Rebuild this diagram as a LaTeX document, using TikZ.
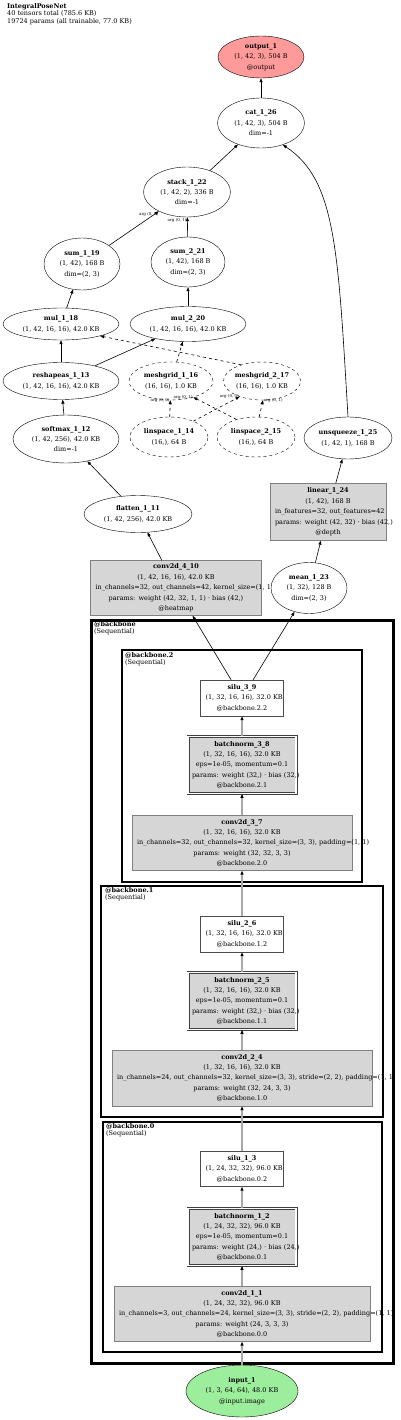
\documentclass[tikz,border=0pt]{standalone}
\usepackage{fontspec}
\setmainfont{DejaVu Serif}
\usetikzlibrary{arrows.meta, shapes.geometric}
\definecolor{opgray}{HTML}{D6D6D6}
\definecolor{outred}{HTML}{FF9A9A}
\definecolor{ingreen}{HTML}{9CEE9C}
\definecolor{flowgray}{HTML}{A8A8A8}
\newcommand{\nodefont}{\fontsize{6.5}{10.4}\selectfont}
\newcommand{\argfont}{\fontsize{4}{4.5}\selectfont}
\newcommand{\headfont}{\fontsize{6.5}{7.7}\selectfont}

\begin{document}
\begin{tikzpicture}[x=1pt, y=-1pt]
        \tikzset{
            op/.style={ellipse, draw, fill=white, align=center, inner sep=0pt, font=\nodefont},
            aux/.style={op, dashed},
            layer/.style={rectangle, draw=gray, fill=opgray, align=center, inner xsep=5pt, inner ysep=0pt, font=\nodefont},
            act/.style={layer, fill=white, draw=gray!60!black},
            norm/.style={layer, inner xsep=4pt, draw=gray!50!black, line width=0.7pt, double, double distance=1.6pt},
            frame/.style={draw, line width=2pt},
            framelabel/.style={anchor=north west, align=left, inner sep=0pt, font=\headfont},
            edge/.style={-{Triangle[length=4pt, width=3pt]}, line width=0.6pt},
            argedge/.style={edge, dashed},
            flow/.style={-{Triangle[black, length=4pt, width=3pt]}, draw=flowgray, line width=1.6pt},
            arglabel/.style={font=\argfont, inner sep=0.5pt}
        }
        \useasboundingbox (0,0) rectangle (400,1420);

        % Frames
        \draw[frame, line width=3pt] (91,620) rectangle (393,1363);
        \draw[frame] (122,650) rectangle (362,882);
        \draw[frame] (101,886) rectangle (383,1117);
        \draw[frame] (103,1122) rectangle (382,1352);
        \node[framelabel] (backbone) at (94,621) {\textbf{@backbone}\\(Sequential)};
        \node[framelabel] (backbone2) at (125,652) {\textbf{@backbone.2}\\(Sequential)};
        \node[framelabel] (backbone1) at (105,887) {\textbf{@backbone.1}\\(Sequential)};
        \node[framelabel] (backbone0) at (106,1123) {\textbf{@backbone.0}\\(Sequential)};

        % Nodes
        \node[anchor=north west, align=left, inner sep=0pt, font=\headfont] (header) at (7,3) {\textbf{IntegralPoseNet}\\40 tensors total (785.6 KB)\\19724 params (all trainable, 77.0 KB)};
        \node[op, fill=outred, minimum width=86, minimum height=42] (output_1) at (261,57) {\textbf{output\_1}\\(1, 42, 3), 504 B\\@output};
        \node[op, minimum width=87, minimum height=50] (cat_1_26) at (261,123) {\textbf{cat\_1\_26}\\(1, 42, 3), 504 B\\dim=-1};
        \node[op, minimum width=87, minimum height=50] (stack_1_22) at (187,192) {\textbf{stack\_1\_22}\\(1, 42, 2), 336 B\\dim=-1};
        \node[op, minimum width=76, minimum height=52] (sum_1_19) at (82,264) {\textbf{sum\_1\_19}\\(1, 42), 168 B\\dim=(2, 3)};
        \node[op, minimum width=74, minimum height=50] (sum_2_21) at (188,262) {\textbf{sum\_2\_21}\\(1, 42), 168 B\\dim=(2, 3)};
        \node[op, minimum width=116, minimum height=32] (mul_1_18) at (61,324) {\textbf{mul\_1\_18}\\(1, 42, 16, 16), 42.0 KB};
        \node[op, minimum width=116, minimum height=35] (mul_2_20) at (188,324) {\textbf{mul\_2\_20}\\(1, 42, 16, 16), 42.0 KB};
        \node[op, minimum width=116, minimum height=37] (reshapeas_1_13) at (61,381) {\textbf{reshapeas\_1\_13}\\(1, 42, 16, 16), 42.0 KB};
        \node[aux, minimum width=84, minimum height=38] (meshgrid_1_16) at (171,381) {\textbf{meshgrid\_1\_16}\\(16, 16), 1.0 KB};
        \node[aux, minimum width=77, minimum height=38] (meshgrid_2_17) at (262,381) {\textbf{meshgrid\_2\_17}\\(16, 16), 1.0 KB};
        \node[op, minimum width=106, minimum height=48] (softmax_1_12) at (66,439) {\textbf{softmax\_1\_12}\\(1, 42, 256), 42.0 KB\\dim=-1};
        \node[aux, minimum width=78, minimum height=40] (linspace_1_14) at (169,437) {\textbf{linspace\_1\_14}\\(16,), 64 B};
        \node[aux, minimum width=78, minimum height=40] (linspace_2_15) at (256,437) {\textbf{linspace\_2\_15}\\(16,), 64 B};
        \node[op, minimum width=88, minimum height=42] (unsqueeze_1_25) at (348,438) {\textbf{unsqueeze\_1\_25}\\(1, 42, 1), 168 B};
        \node[op, minimum width=108, minimum height=37] (flatten_1_11) at (138,514) {\textbf{flatten\_1\_11}\\(1, 42, 256), 42.0 KB};
        \node[layer, text width=106, minimum height=57] (linear_1_24) at (328,512) {\textbf{linear\_1\_24}\\(1, 42), 168 B\\\mbox{in\_features=32, out\_features=42}\\\mbox{params: weight (42, 32) · bias (42,)}\\@depth};
        \node[layer, text width=161, minimum height=55] (conv2d_4_10) at (176,588) {\textbf{conv2d\_4\_10}\\(1, 42, 16, 16), 42.0 KB\\\mbox{in\_channels=32, out\_channels=42, kernel\_size=(1, 1)}\\\mbox{params: weight (42, 32, 1, 1) · bias (42,)}\\@heatmap};
        \node[op, minimum width=76, minimum height=51] (mean_1_23) at (309,588) {\textbf{mean\_1\_23}\\(1, 32), 128 B\\dim=(2, 3)};

        \node[act, text width=73, minimum height=36] (silu_3_9) at (242,698) {\textbf{silu\_3\_9}\\\mbox{(1, 32, 16, 16), 32.0 KB}\\@backbone.2.2};
        \node[norm, text width=100, minimum height=57] (batchnorm_3_8) at (242,765) {\textbf{batchnorm\_3\_8}\\\mbox{(1, 32, 16, 16), 32.0 KB}\\\mbox{eps=1e-05, momentum=0.1}\\\mbox{params: weight (32,) · bias (32,)}\\@backbone.2.1};
        \node[layer, text width=210, minimum height=55] (conv2d_3_7) at (242,843) {\textbf{conv2d\_3\_7}\\(1, 32, 16, 16), 32.0 KB\\\mbox{in\_channels=32, out\_channels=32, kernel\_size=(3, 3), padding=(1, 1)}\\params: weight (32, 32, 3, 3)\\@backbone.2.0};
        \node[act, text width=73, minimum height=36] (silu_2_6) at (242,934) {\textbf{silu\_2\_6}\\\mbox{(1, 32, 16, 16), 32.0 KB}\\@backbone.1.2};
        \node[norm, text width=100, minimum height=57] (batchnorm_2_5) at (242,1001) {\textbf{batchnorm\_2\_5}\\\mbox{(1, 32, 16, 16), 32.0 KB}\\\mbox{eps=1e-05, momentum=0.1}\\\mbox{params: weight (32,) · bias (32,)}\\@backbone.1.1};
        \node[layer, text width=250, minimum height=56] (conv2d_2_4) at (242,1078) {\textbf{conv2d\_2\_4}\\(1, 32, 16, 16), 32.0 KB\\\mbox{in\_channels=24, out\_channels=32, kernel\_size=(3, 3), stride=(2, 2), padding=(1, 1)}\\params: weight (32, 24, 3, 3)\\@backbone.1.0};
        \node[act, text width=73, minimum height=35] (silu_1_3) at (242,1169) {\textbf{silu\_1\_3}\\\mbox{(1, 24, 32, 32), 96.0 KB}\\@backbone.0.2};
        \node[norm, text width=100, minimum height=57] (batchnorm_1_2) at (242,1237) {\textbf{batchnorm\_1\_2}\\\mbox{(1, 24, 32, 32), 96.0 KB}\\\mbox{eps=1e-05, momentum=0.1}\\\mbox{params: weight (24,) · bias (24,)}\\@backbone.0.1};
        \node[layer, text width=246, minimum height=55] (conv2d_1_1) at (242,1314) {\textbf{conv2d\_1\_1}\\(1, 24, 32, 32), 96.0 KB\\\mbox{in\_channels=3, out\_channels=24, kernel\_size=(3, 3), stride=(2, 2), padding=(1, 1)}\\params: weight (24, 3, 3, 3)\\@backbone.0.0};
        \node[op, fill=ingreen, minimum width=112, minimum height=52] (input_1) at (242,1391) {\textbf{input\_1}\\(1, 3, 64, 64), 48.0 KB\\@input.image};

        % Edges
        \draw[edge] (cat_1_26) -- (output_1);
        \draw[edge] (stack_1_22) -- (cat_1_26);
        \draw[edge] (unsqueeze_1_25.north) .. controls (338,250) and (336,180) .. (cat_1_26.-45);
        \draw[edge] (sum_1_19) -- (stack_1_22) node[arglabel, at end, anchor=north east] {arg (0, 0)};
        \draw[edge] (sum_2_21) -- (stack_1_22) node[arglabel, at end, anchor=north east] {arg (0, 1)};
        \draw[edge] (mul_1_18) -- (sum_1_19);
        \draw[edge] (mul_2_20) -- (sum_2_21);
        \draw[edge] (reshapeas_1_13) -- (mul_1_18);
        \draw[edge] (reshapeas_1_13) -- (mul_2_20);
        \draw[argedge] (meshgrid_1_16) -- (mul_2_20);
        \draw[argedge] (meshgrid_2_17.142) -- (mul_1_18.-17);
        \draw[argedge] (linspace_1_14) -- (meshgrid_1_16) node[arglabel, at end, anchor=east] {arg (0, 0)};
        \draw[argedge] (linspace_2_15.138) -- (meshgrid_1_16.-36) node[arglabel, at end, anchor=east] {arg (0, 1)};
        \draw[argedge] (linspace_1_14.33) -- (meshgrid_2_17.215) node[arglabel, at end, anchor=east] {arg (0, 0)};
        \draw[argedge] (linspace_2_15.81) -- (meshgrid_2_17.-87) node[arglabel, at end, anchor=west] {arg (0, 1)};
        \draw[edge] (softmax_1_12) -- (reshapeas_1_13);
        \draw[edge] (flatten_1_11) -- (softmax_1_12);
        \draw[edge] (conv2d_4_10) -- (flatten_1_11);
        \draw[edge] (silu_3_9) -- (conv2d_4_10);
        \draw[edge] (silu_3_9) -- (mean_1_23);
        \draw[edge] (mean_1_23) -- (linear_1_24);
        \draw[edge] (linear_1_24) -- (unsqueeze_1_25);
        % Backbone flow
        \draw[flow] (input_1) -- (conv2d_1_1);
        \draw[flow] (conv2d_1_1) -- (batchnorm_1_2);
        \draw[flow] (batchnorm_1_2) -- (silu_1_3);
        \draw[flow] (silu_1_3) -- (conv2d_2_4);
        \draw[flow] (conv2d_2_4) -- (batchnorm_2_5);
        \draw[flow] (batchnorm_2_5) -- (silu_2_6);
        \draw[flow] (silu_2_6) -- (conv2d_3_7);
        \draw[flow] (conv2d_3_7) -- (batchnorm_3_8);
        \draw[flow] (batchnorm_3_8) -- (silu_3_9);
    \end{tikzpicture}
\end{document}
